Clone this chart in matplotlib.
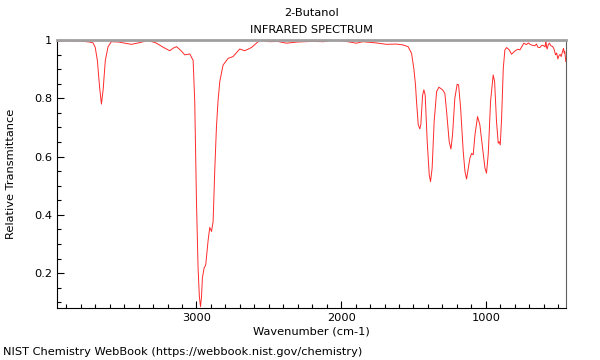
import numpy as np
import matplotlib
matplotlib.use("Agg")
import matplotlib.pyplot as plt
from matplotlib.ticker import MultipleLocator, FuncFormatter

# Spectrum (wavenumber in cm-1, relative transmittance)
wavenumber = [3964, 3900, 3800, 3740, 3715, 3700, 3685, 3670, 3657, 3645, 3630, 3611, 3588,
              3540, 3496, 3450, 3400, 3335, 3280, 3230, 3185, 3160, 3138, 3110, 3081, 3046, 3023,
              3012, 3000, 2989, 2980, 2972, 2965, 2959, 2947, 2936, 2920, 2908, 2896, 2885,
              2873, 2862, 2851, 2839, 2816, 2781, 2747, 2701, 2666, 2620, 2562, 2493,
              2440, 2378, 2300, 2200, 2120, 2057, 1980, 1894, 1850, 1760, 1686, 1620, 1573,
              1537, 1513, 1497, 1486, 1479, 1467, 1456, 1449, 1437, 1428, 1419, 1405, 1391,
              1382, 1371, 1357, 1340, 1324, 1299, 1283, 1271, 1253, 1241, 1230, 1214, 1198,
              1188, 1174, 1156, 1144, 1133, 1121, 1110, 1098, 1087, 1075, 1057, 1041, 1022,
              1006, 995, 983, 967, 949, 939, 926, 914, 907, 900, 891, 879, 868, 856, 838,
              822, 799, 780, 764, 750, 737, 720, 705, 695, 680, 661, 650, 640, 626, 612,
              599, 590, 585, 580, 576, 568, 560, 550, 537, 528, 518, 510, 502, 495, 491,
              485, 479, 470, 463, 458, 454, 450, 447]
transmittance = [0.995, 0.997, 0.996, 0.993, 0.99, 0.975, 0.93, 0.84, 0.78, 0.83, 0.93, 0.977, 0.994,
                 0.993, 0.989, 0.985, 0.99, 0.998, 0.99, 0.975, 0.963, 0.972, 0.977, 0.965, 0.949, 0.952, 0.93,
                 0.79, 0.446, 0.22, 0.12, 0.085, 0.12, 0.184, 0.218, 0.228, 0.31, 0.357, 0.343, 0.377,
                 0.56, 0.70, 0.79, 0.857, 0.914, 0.937, 0.943, 0.969, 0.963, 0.974, 0.999, 0.994,
                 0.995, 0.989, 0.993, 0.995, 0.994, 1.0, 0.996, 0.989, 0.994, 0.99, 0.985, 0.986, 0.983,
                 0.977, 0.954, 0.90, 0.846, 0.79, 0.709, 0.695, 0.71, 0.81, 0.829, 0.81, 0.651, 0.537,
                 0.514, 0.56, 0.72, 0.823, 0.838, 0.829, 0.817, 0.754, 0.651, 0.626, 0.674, 0.80, 0.848,
                 0.846, 0.766, 0.617, 0.549, 0.523, 0.56, 0.594, 0.611, 0.606, 0.674, 0.737, 0.709, 0.629,
                 0.561, 0.543, 0.61, 0.79, 0.88, 0.857, 0.72, 0.646, 0.651, 0.64, 0.73, 0.904, 0.966, 0.974, 0.966,
                 0.951, 0.962, 0.968, 0.966, 0.978, 0.989, 0.984, 0.99, 0.985, 0.982, 0.98, 0.986, 0.975, 0.974, 0.982,
                 0.98, 0.976, 1.0, 0.975, 0.969, 0.984, 0.989, 0.98, 0.977, 0.968, 0.949, 0.955, 0.935, 0.945, 0.949,
                 0.95, 0.943, 0.96, 0.971, 0.955, 0.96, 0.94, 0.926]

x_ticks = [3000, 2000, 1000]
y_ticks = [0.2, 0.4, 0.6, 0.8, 1.0]

fig = plt.figure(figsize=(6, 3.6), dpi=100)
ax = fig.add_axes([0.095, 0.144, 0.848, 0.745])

ax.plot(wavenumber, transmittance, color="#ff2a2a", linewidth=0.7)

ax.set_xlim(3964, 447)
ax.set_ylim(0.08, 1.0)
ax.set_xticks(x_ticks)
ax.xaxis.set_minor_locator(MultipleLocator(100))
ax.set_yticks(y_ticks)
ax.yaxis.set_minor_locator(MultipleLocator(0.05))
ax.yaxis.set_major_formatter(FuncFormatter(lambda v, p: "%g" % round(v, 2)))

ax.tick_params(which="both", direction="in", labelsize=8.2, top=False, right=False)
ax.tick_params(which="major", length=5, width=0.8)
ax.tick_params(which="minor", length=3, width=0.8)

ax.spines["top"].set_color("#a0a0a0")
ax.spines["top"].set_linewidth(2)
ax.spines["right"].set_color("#606060")
ax.spines["left"].set_linewidth(0.8)
ax.spines["bottom"].set_linewidth(0.8)

ax.set_xlabel("Wavenumber (cm-1)", fontsize=8.2)
ax.xaxis.set_label_coords(0.5, -0.07)
ax.set_ylabel("Relative Transmittance", fontsize=8.2)
ax.yaxis.set_label_coords(-0.08, 0.5)
fig.text(0.519, 0.965, "2-Butanol", ha="center", va="center", fontsize=8.2)
fig.text(0.519, 0.917, "INFRARED SPECTRUM", ha="center", va="center", fontsize=8.2)
fig.text(0.005, 0.022, "NIST Chemistry WebBook (https://webbook.nist.gov/chemistry)",
         ha="left", va="center", fontsize=8.2)

fig.savefig("out.png", dpi=100)
